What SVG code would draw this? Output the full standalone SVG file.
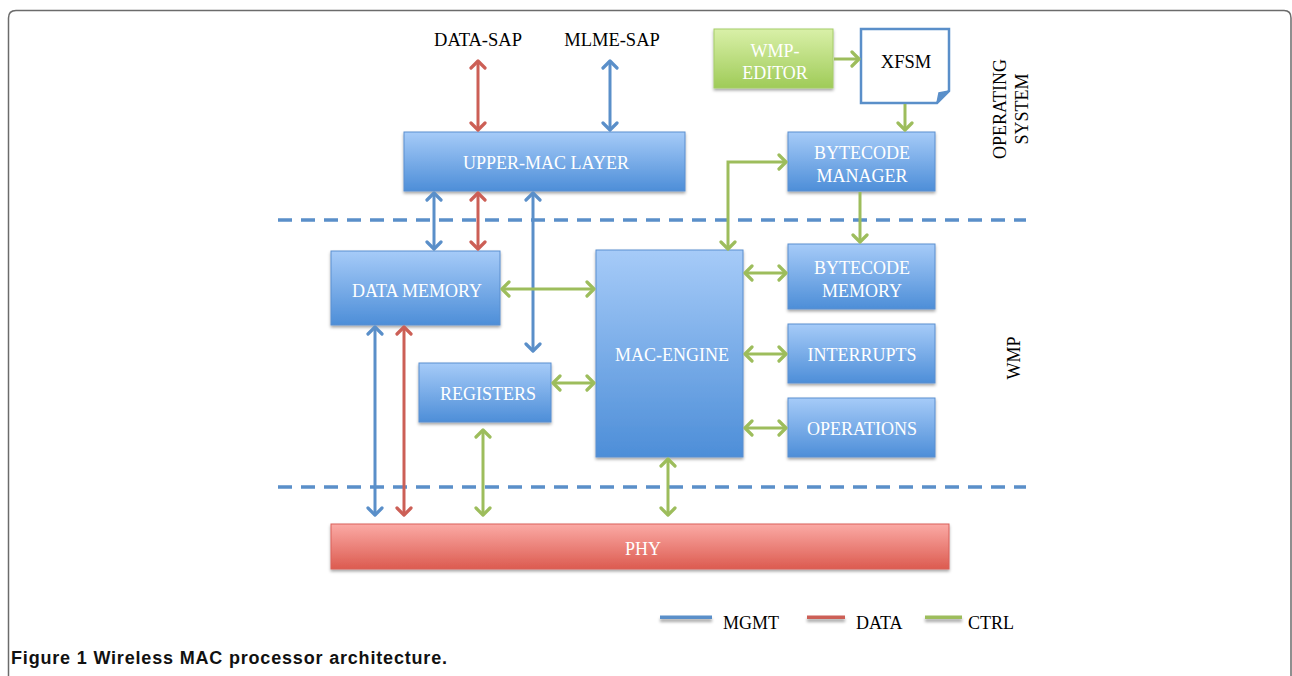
<svg xmlns="http://www.w3.org/2000/svg" width="1292" height="676" viewBox="0 0 1292 676">
<defs>
<linearGradient id="gBlue" x1="0" y1="0" x2="0" y2="1"><stop offset="0" stop-color="#a6cbf8"/><stop offset="1" stop-color="#4d8ed8"/></linearGradient>
<linearGradient id="gGreen" x1="0" y1="0" x2="0" y2="1"><stop offset="0" stop-color="#d9f0a8"/><stop offset="1" stop-color="#9fcb58"/></linearGradient>
<linearGradient id="gRed" x1="0" y1="0" x2="0" y2="1"><stop offset="0" stop-color="#fbaaa5"/><stop offset="1" stop-color="#dc5b50"/></linearGradient>
<filter id="sh" x="-10%" y="-10%" width="120%" height="130%"><feDropShadow dx="0" dy="2" stdDeviation="1.5" flood-color="#000" flood-opacity="0.35"/></filter>
<filter id="shl" filterUnits="userSpaceOnUse" x="640" y="605" width="340" height="30"><feDropShadow dx="0" dy="3" stdDeviation="1.5" flood-color="#000" flood-opacity="0.35"/></filter>
<marker id="aB" markerUnits="userSpaceOnUse" viewBox="-10 -10 12 20" refX="0" refY="0" markerWidth="12" markerHeight="20" orient="auto-start-reverse"><path d="M-7,-7 L0,0 L-7,7" fill="none" stroke="#5a8fc9" stroke-width="3.2" stroke-linecap="round" stroke-linejoin="round"/></marker>
<marker id="aR" markerUnits="userSpaceOnUse" viewBox="-10 -10 12 20" refX="0" refY="0" markerWidth="12" markerHeight="20" orient="auto-start-reverse"><path d="M-7,-7 L0,0 L-7,7" fill="none" stroke="#cc5f56" stroke-width="3.2" stroke-linecap="round" stroke-linejoin="round"/></marker>
<marker id="aG" markerUnits="userSpaceOnUse" viewBox="-10 -10 12 20" refX="0" refY="0" markerWidth="12" markerHeight="20" orient="auto-start-reverse"><path d="M-7,-7 L0,0 L-7,7" fill="none" stroke="#9dbd5c" stroke-width="3.2" stroke-linecap="round" stroke-linejoin="round"/></marker>
</defs>
<style>
.box{fill:url(#gBlue);stroke:#5b8fcf;stroke-width:1;filter:url(#sh)}
.bt{font-family:"Liberation Serif",serif;font-size:18px;fill:#fff;text-anchor:middle}
.lbl{font-family:"Liberation Serif",serif;font-size:18.5px;fill:#000;text-anchor:middle}
.mg{stroke:#5a8fc9;stroke-width:3;fill:none;marker-start:url(#aB);marker-end:url(#aB)}
.dt{stroke:#cc5f56;stroke-width:3;fill:none;marker-start:url(#aR);marker-end:url(#aR)}
.ct{stroke:#9dbd5c;stroke-width:3;fill:none;marker-start:url(#aG);marker-end:url(#aG)}
.ct1{stroke:#9dbd5c;stroke-width:3;fill:none;marker-end:url(#aG)}
.dash{stroke:#5a8fc9;stroke-width:3.5;stroke-dasharray:14 9;fill:none}
.leg{font-family:"Liberation Serif",serif;font-size:18px;fill:#000}
</style>
<rect width="1292" height="676" fill="#fff"/>
<path d="M8.5,676 V18 Q8.5,10.5 16,10.5 H1284 Q1291,10.5 1291,18 V676" fill="none" stroke="#6b6b6b" stroke-width="1.5"/>

<g id="dividers">
<line class="dash" x1="278" y1="220" x2="1026" y2="220"/>
<line class="dash" x1="278" y1="487" x2="1026" y2="487"/>
</g>

<g id="sap-labels">
<text class="lbl" x="478" y="46">DATA-SAP</text>
<text class="lbl" x="612" y="46">MLME-SAP</text>
</g>

<g id="upper-mac"><rect class="box" x="404" y="132" width="281" height="59"/><text class="bt" x="546" y="169">UPPER-MAC LAYER</text></g>
<g id="wmp-editor"><rect x="714" y="29" width="119" height="59" fill="url(#gGreen)" stroke="#a6cd6a" stroke-width="1" filter="url(#sh)"/><text class="bt" x="775" y="57">WMP-</text><text class="bt" x="775" y="79">EDITOR</text></g>
<g id="xfsm"><path d="M861,29 H949 V91 L937,103 H861 Z" fill="#fff" stroke="#5a8fc9" stroke-width="2.5"/><path d="M937,103 L939,93 L949,91" fill="#5a8fc9" stroke="#5a8fc9" stroke-width="1.5"/><text class="lbl" x="906" y="68">XFSM</text></g>
<g id="bytecode-manager"><rect class="box" x="788" y="132" width="147" height="59"/><text class="bt" x="862" y="159">BYTECODE</text><text class="bt" x="862" y="182">MANAGER</text></g>
<g id="data-memory"><rect class="box" x="331" y="251" width="169" height="74"/><text class="bt" x="417" y="297">DATA MEMORY</text></g>
<g id="registers"><rect class="box" x="419" y="363" width="132" height="59"/><text class="bt" x="488" y="400">REGISTERS</text></g>
<g id="mac-engine"><rect class="box" x="596" y="250" width="147" height="207"/><text class="bt" x="672" y="361">MAC-ENGINE</text></g>
<g id="bytecode-memory"><rect class="box" x="788" y="244" width="147" height="65"/><text class="bt" x="862" y="274">BYTECODE</text><text class="bt" x="862" y="297">MEMORY</text></g>
<g id="interrupts"><rect class="box" x="788" y="324" width="147" height="59"/><text class="bt" x="862" y="361">INTERRUPTS</text></g>
<g id="operations"><rect class="box" x="788" y="398" width="147" height="59"/><text class="bt" x="862" y="435">OPERATIONS</text></g>
<g id="phy"><rect x="331" y="524" width="618" height="45" fill="url(#gRed)" stroke="#d9605a" stroke-width="1" filter="url(#sh)"/><text class="bt" x="643" y="555">PHY</text></g>

<g id="side-labels">
<text class="lbl" style="font-size:18px" transform="translate(1006,109) rotate(-90)">OPERATING</text>
<text class="lbl" style="font-size:18px" transform="translate(1028,109) rotate(-90)">SYSTEM</text>
<text class="lbl" style="font-size:18px" transform="translate(1020,358) rotate(-90)">WMP</text>
</g>

<g id="connectors">
<line class="dt" x1="478" y1="61" x2="478" y2="130"/>
<line class="mg" x1="610" y1="61" x2="610" y2="130"/>
<line class="ct1" x1="834" y1="59" x2="859" y2="59"/>
<line class="ct1" x1="905" y1="104" x2="905" y2="130"/>
<path class="ct" d="M728,249 V162 H786"/>
<line class="ct1" x1="860" y1="192" x2="860" y2="242"/>
<line class="mg" x1="434" y1="193" x2="434" y2="249"/>
<line class="dt" x1="478" y1="193" x2="478" y2="249"/>
<line class="mg" x1="533" y1="193" x2="533" y2="351"/>
<line class="ct" x1="502" y1="289" x2="594" y2="289"/>
<line class="ct" x1="553" y1="383" x2="594" y2="383"/>
<line class="ct" x1="745" y1="273" x2="786" y2="273"/>
<line class="ct" x1="745" y1="354" x2="786" y2="354"/>
<line class="ct" x1="745" y1="428" x2="786" y2="428"/>
<line class="mg" x1="375" y1="327" x2="375" y2="515"/>
<line class="dt" x1="404" y1="327" x2="404" y2="515"/>
<line class="ct" x1="483" y1="430" x2="483" y2="515"/>
<line class="ct" x1="668" y1="459" x2="668" y2="515"/>
</g>

<g id="legend">
<rect x="660" y="615.5" width="52" height="3.5" fill="#5a8fc9" filter="url(#shl)"/>
<text class="leg" x="723" y="629">MGMT</text>
<rect x="807" y="615.5" width="38" height="3.5" fill="#cc5f56" filter="url(#shl)"/>
<text class="leg" x="856" y="629">DATA</text>
<rect x="925" y="615.5" width="37" height="3.5" fill="#9dbd5c" filter="url(#shl)"/>
<text class="leg" x="968" y="629">CTRL</text>
</g>

<g id="caption">
<text x="11" y="664" font-family="Liberation Sans, Arial, sans-serif" font-size="18" font-weight="700" fill="#111" textLength="436" lengthAdjust="spacing">Figure 1 Wireless MAC processor architecture.</text>
</g>
</svg>
